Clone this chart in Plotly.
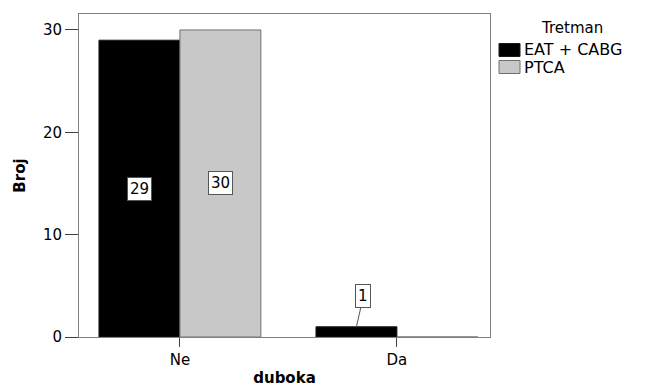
import plotly.graph_objects as go

categories = ["Ne", "Da"]
series_names = ["EAT + CABG", "PTCA"]
eat_cabg = [29, 1]
ptca = [30, 0]
colors = ["#000000", "#c8c8c8"]
line_colors = ["#1a1a1a", "#707070"]
legend_title = "Tretman"

FONT = "DejaVu Sans, Liberation Sans, Arial, sans-serif"

# page offset of the figure (default body margin)
OX, OY = 8, 8
W, H = 645 - OX, 387 - OY
# plot area in page pixels: left 79, right 490, top 14, bottom 337
L, T = 79 - OX, 14 - OY
R = W - (490 - OX)
B = H - (337 - OY)
PW, PH = W - L - R, H - T - B


def px_x(px):
    return (px - OX - L) / PW


def px_y(py):
    return (H - B - (py - OY)) / PH


fig = go.Figure()
for name, vals, c, lc in zip(series_names, [eat_cabg, ptca], colors, line_colors):
    fig.add_trace(go.Bar(
        x=categories, y=vals, name=name,
        marker=dict(color=c, line=dict(color=lc, width=1)),
        showlegend=False,
    ))

# value labels
offsets = [-0.1865, 0.1865]
for si, vals in enumerate([eat_cabg, ptca]):
    for ci, v in enumerate(vals):
        if v == 0:
            continue
        xpos = ci + offsets[si]
        if v >= 5:
            fig.add_annotation(
                x=xpos, y=v / 2, xref="x", yref="y", text=str(v),
                showarrow=False, bgcolor="white", bordercolor="#555555",
                borderwidth=1, borderpad=2,
                font=dict(family=FONT, size=15, color="black"),
            )
        else:
            fig.add_annotation(
                x=xpos, y=v, xref="x", yref="y", text=str(v),
                showarrow=True, arrowhead=0, arrowwidth=1, arrowcolor="#555555",
                ax=7, ay=-31, bgcolor="white", bordercolor="#555555",
                borderwidth=1, borderpad=2,
                font=dict(family=FONT, size=15, color="black"),
            )

# manual legend
fig.add_annotation(
    x=px_x(572), y=px_y(28), xref="paper", yref="paper", text=legend_title,
    showarrow=False, xanchor="center", yanchor="middle",
    font=dict(family=FONT, size=15, color="black"),
)
item_y = [50, 67]
for name, c, lc, yy in zip(series_names, colors, line_colors, item_y):
    fig.add_shape(
        type="rect", xref="paper", yref="paper",
        x0=px_x(499), x1=px_x(520), y0=px_y(yy - 6.5), y1=px_y(yy + 6.5),
        fillcolor=c, line=dict(color=lc, width=1),
    )
    fig.add_annotation(
        x=px_x(522), y=px_y(yy), xref="paper", yref="paper", text=name,
        showarrow=False, xanchor="left", yanchor="middle",
        font=dict(family=FONT, size=16, color="black"),
    )

fig.update_layout(
    width=W, height=H,
    margin=dict(l=L, r=R, t=T, b=B, autoexpand=False),
    paper_bgcolor="white", plot_bgcolor="white",
    barmode="group", bargap=0.254, bargroupgap=0,
    font=dict(family=FONT, size=15, color="black"),
    showlegend=False,
    xaxis=dict(
        range=[-0.465, 1.429], showgrid=False, showline=True, linecolor="#808080",
        linewidth=1, mirror=True, ticks="outside", ticklen=9, tickcolor="#404040",
        title=dict(text="<b>duboka</b>", font=dict(size=15, family=FONT), standoff=9),
        tickfont=dict(size=15, family=FONT), automargin=False,
    ),
    yaxis=dict(
        range=[0, 31.56], showgrid=False, showline=True, linecolor="#808080",
        linewidth=1, mirror=True, ticks="outside", ticklen=13, tickcolor="#404040",
        tickvals=[0, 10, 20, 30], zeroline=False,
        title=dict(text="<b>Broj</b>", font=dict(size=15, family=FONT), standoff=13),
        tickfont=dict(size=15, family=FONT), automargin=False,
    ),
)

fig.write_html("out.html")
